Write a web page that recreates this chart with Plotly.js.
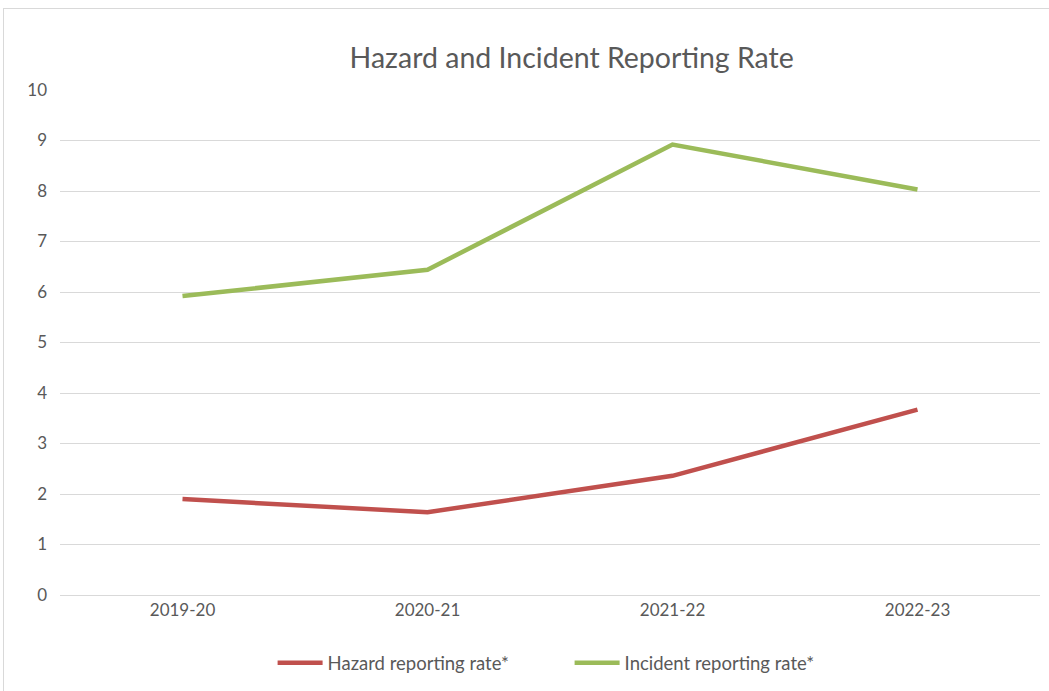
<!DOCTYPE html>
<html>
<head>
<meta charset="utf-8">
<script src="https://cdn.plot.ly/plotly-3.0.1.min.js"></script>
<style>
html,body{margin:0;padding:0;background:#fff;}
#wrap{position:relative;width:1049px;height:691px;}
#chart{position:absolute;left:0;top:0;width:1049px;height:691px;}
#frame{position:absolute;left:3px;top:8px;width:1050px;height:690px;border:1px solid #d9d9d9;pointer-events:none;}
</style>
</head>
<body>
<div id="wrap"><div id="chart"></div><div id="frame"></div></div>
<script>
const years = ["2019-20", "2020-21", "2021-22", "2022-23"];
const hazardRate = [1.90, 1.64, 2.36, 3.67];
const incidentRate = [5.92, 6.44, 8.92, 8.03];
const seriesNames = ["Hazard reporting rate*", "Incident reporting rate*"];
const yTicks = [0,1,2,3,4,5,6,7,8,9,10];

const font = "Lato, 'Liberation Sans', sans-serif";
const traces = [
  {x: years, y: hazardRate, name: seriesNames[0], type: "scatter", mode: "lines",
   line: {color: "#c0504d", width: 4.5}},
  {x: years, y: incidentRate, name: seriesNames[1], type: "scatter", mode: "lines",
   line: {color: "#9bbb59", width: 4.5}}
];
const layout = {
  width: 1049, height: 691,
  margin: {l: 60, r: 9, t: 90, b: 96},
  paper_bgcolor: "#ffffff", plot_bgcolor: "#ffffff",
  font: {family: font, color: "#595959", size: 17},
  title: {text: "Hazard and Incident Reporting Rate", font: {family: font, size: 28.5, color: "#595959"},
          x: 0.545, xanchor: "center", y: 0.916, yanchor: "middle"},
  xaxis: {type: "category", range: [-0.5, 3.5], showgrid: false, zeroline: false,
          showline: true, linecolor: "#d9d9d9", linewidth: 1, ticks: "",
          tickfont: {size: 17, color: "#595959"}, fixedrange: true},
  yaxis: {range: [0, 10], tickvals: yTicks, showgrid: true, gridcolor: "#d9d9d9", gridwidth: 1,
          zeroline: false, showline: false, ticks: "", ticklabelstandoff: 12,
          tickfont: {size: 17, color: "#595959"}, fixedrange: true},
  showlegend: true,
  legend: {orientation: "h", x: 0.52, xanchor: "center", y: -0.135, yanchor: "middle",
           font: {size: 18.5, color: "#595959"}, itemwidth: 45, entrywidth: 237, traceorder: "normal"}
};
Plotly.newPlot("chart", traces, layout, {displayModeBar: false, staticPlot: true});
</script>
</body>
</html>
